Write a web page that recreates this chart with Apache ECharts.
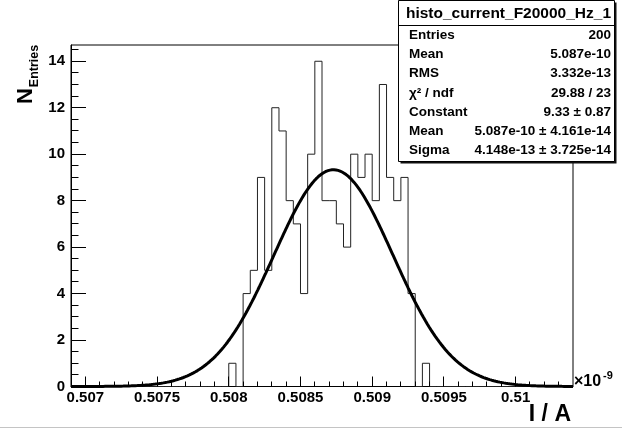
<!DOCTYPE html>
<html>
<head>
<meta charset="utf-8">
<script src="https://cdn.jsdelivr.net/npm/echarts@6/dist/echarts.min.js"></script>
<style>
  html, body { margin: 0; padding: 0; background: #fff; }
  #chart { width: 622px; height: 429px; }
</style>
</head>
<body>
<div id="chart"></div>
<script>
// Histogram range and binning, x in units of 1e-9 A
const xMin = 0.5069;
const xMax = 0.5104;
const binWidth = 0.00005;
const yMax = 14.7;

// Entries per bin (70 bins)
const counts = [
  0, 0, 0, 0, 0, 0, 0, 0, 0, 0,
  0, 0, 0, 0, 0, 0, 0, 0, 0, 0,
  0, 0, 1, 0, 4, 5, 9, 5, 12, 11,
  8, 7, 4, 10, 14, 8, 8, 7, 6, 10,
  9, 10, 8, 13, 9, 8, 9, 4, 0, 1,
  0, 0, 0, 0, 0, 0, 0, 0, 0, 0,
  0, 0, 0, 0, 0, 0, 0, 0, 0, 0
];

// Gaussian fit result (amperes)
const fitConstant = 9.33;
const fitConstantErr = 0.87;
const fitMean = 5.0873e-10;
const fitMeanErr = 4.161e-14;
const fitSigma = 4.148e-13;
const fitSigmaErr = 3.725e-14;
const chi2 = 29.88;
const ndf = 23;

// Histogram statistics
const histName = 'histo_current_F20000_Hz_1';
const histMean = '5.087e-10';
const histRms = '3.332e-13';

// Axis tick labels
const xTickValues = [0.507, 0.5075, 0.508, 0.5085, 0.509, 0.5095, 0.51];
const yTickValues = [0, 2, 4, 6, 8, 10, 12, 14];

// Minor ticks: every 1e-4 on x, every 0.5 on y
const xMinorTicks = [];
for (let i = 5070; i <= 5103; i++) {
  if (i % 5 !== 0) xMinorTicks.push(i / 10000);
}
const yMinorTicks = [];
for (let i = 1; i <= 29; i++) {
  if (i % 4 !== 0) yMinorTicks.push(i / 2);
}

// Step outline of the histogram: one point per lower bin edge
const histPoints = counts.map((c, k) => [xMin + k * binWidth, c]);
histPoints.push([xMin + counts.length * binWidth, counts[counts.length - 1]]);

// Fitted gaussian evaluated across the axis range
const mu = fitMean * 1e9;
const sg = fitSigma * 1e9;
const curvePoints = [];
const nSamples = 500;
for (let i = 0; i <= nSamples; i++) {
  const x = xMin + (xMax - xMin) * i / nSamples;
  curvePoints.push([x, fitConstant * Math.exp(-0.5 * Math.pow((x - mu) / sg, 2))]);
}

const entries = counts.reduce((a, b) => a + b, 0);
const statLabels = ['Entries', 'Mean', 'RMS', 'χ² / ndf', 'Constant', 'Mean', 'Sigma'];
const statValues = [
  String(entries),
  histMean,
  histRms,
  chi2.toFixed(2) + ' / ' + ndf,
  fitConstant.toFixed(2) + ' ± ' + fitConstantErr.toFixed(2),
  fitMean.toExponential(3) + ' ± ' + fitMeanErr.toExponential(3),
  fitSigma.toExponential(3) + ' ± ' + fitSigmaErr.toExponential(3)
];

const FONT = '"Liberation Sans", Arial, Helvetica, sans-serif';
const tickFont = { color: '#000', fontFamily: FONT, fontWeight: 'bold', fontSize: 15 };

function txt(x, y, text, size, align, vAlign, extra) {
  return Object.assign({
    type: 'text', x: x, y: y, z: 100,
    style: {
      text: text, fill: '#000',
      font: 'bold ' + size + 'px ' + FONT,
      align: align, verticalAlign: vAlign,
      textAlign: align, textVerticalAlign: vAlign
    }
  }, extra || {});
}

const chart = echarts.init(document.getElementById('chart'), null, { renderer: 'canvas' });
chart.setOption({
  animation: false,
  backgroundColor: '#fff',
  grid: {
    left: 71, right: 49, top: 45, bottom: 42.5,
    show: true, borderColor: '#000', borderWidth: 1,
    containLabel: false, outerBoundsMode: 'none'
  },
  xAxis: {
    type: 'value', min: xMin, max: xMax, position: 'bottom',
    axisLine: { show: true, onZero: false, lineStyle: { color: '#000', width: 1 } },
    axisTick: { show: false },
    axisLabel: Object.assign({ customValues: xTickValues, margin: 4,
      formatter: v => String(parseFloat(Number(v).toFixed(4))) }, tickFont),
    splitLine: { show: false }
  },
  yAxis: {
    type: 'value', min: 0, max: yMax, position: 'left',
    axisLine: { show: true, onZero: false, lineStyle: { color: '#000', width: 1 } },
    axisTick: { show: false },
    axisLabel: Object.assign({ customValues: yTickValues, margin: 6, formatter: v => String(v) }, tickFont),
    splitLine: { show: false }
  },
  series: [
    {
      name: 'histogram', type: 'line', step: 'end',
      data: histPoints, symbol: 'none',
      lineStyle: { color: '#222', width: 1 },
      silent: true, z: 3
    },
    {
      name: 'gaus', type: 'line', smooth: false,
      data: curvePoints, symbol: 'none',
      lineStyle: { color: '#000', width: 3 },
      silent: true, z: 4
    }
  ]
});

// Tick marks drawn inside the frame, placed through the axis scales
const x0px = chart.convertToPixel({ xAxisIndex: 0 }, xMin);
const y0px = chart.convertToPixel({ yAxisIndex: 0 }, 0);
const crisp = p => Math.round(p - 0.5) + 0.5;
const graphics = [];
function xTick(v, len) {
  const px = crisp(chart.convertToPixel({ xAxisIndex: 0 }, v));
  graphics.push({ type: 'line', z: 20, shape: { x1: px, y1: y0px, x2: px, y2: y0px - len },
    style: { stroke: '#000', lineWidth: 1 } });
}
function yTick(v, len) {
  const py = crisp(chart.convertToPixel({ yAxisIndex: 0 }, v));
  graphics.push({ type: 'line', z: 20, shape: { x1: x0px, y1: py, x2: x0px + len, y2: py },
    style: { stroke: '#000', lineWidth: 1 } });
}
xTickValues.forEach(v => xTick(v, 10));
xMinorTicks.forEach(v => xTick(v, 5));
yTickValues.forEach(v => yTick(v, 15));
yMinorTicks.forEach(v => yTick(v, 7.5));

// Statistics box
const boxL = 398.5, boxT = 0.5, boxW = 216, boxH = 161;
const rowY0 = 35.3, rowStep = 19.2;
graphics.push(
  { type: 'rect', z: 90, shape: { x: boxL + 2, y: boxT + 2, width: boxW, height: boxH }, style: { fill: '#111' } },
  { type: 'rect', z: 91, shape: { x: boxL, y: boxT, width: boxW, height: boxH }, style: { fill: '#fff', stroke: '#000', lineWidth: 1 } },
  { type: 'line', z: 92, shape: { x1: boxL, y1: 25.5, x2: boxL + boxW, y2: 25.5 }, style: { stroke: '#000', lineWidth: 1 } },
  txt(boxL + boxW / 2 + 2, 14, histName, 15.5, 'center', 'middle')
);
statLabels.forEach((lab, i) => {
  graphics.push(txt(409, rowY0 + i * rowStep, lab, 13.5, 'left', 'middle'));
  graphics.push(txt(611, rowY0 + i * rowStep, statValues[i], 13.5, 'right', 'middle'));
});

// Axis titles and exponent
graphics.push(txt(25.5, 96, 'N', 22, 'center', 'middle', { rotation: Math.PI / 2 }));
graphics.push(txt(34.5, 66, 'Entries', 12.5, 'center', 'middle', { rotation: Math.PI / 2 }));
graphics.push(txt(571, 426, 'I / A', 23, 'right', 'bottom'));
graphics.push(txt(574, 382, '×10', 16, 'left', 'middle'));
graphics.push(txt(603, 375.5, '-9', 11, 'left', 'middle'));
graphics.push({ type: 'line', z: 50, shape: { x1: 0, y1: 427.5, x2: 622, y2: 427.5 }, style: { stroke: '#c4c4c4', lineWidth: 1 } });

chart.setOption({ graphic: graphics });
</script>
</body>
</html>
